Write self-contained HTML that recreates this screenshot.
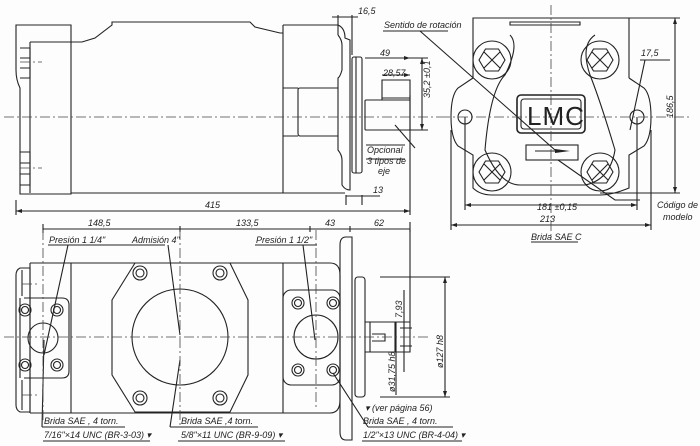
<!DOCTYPE html>
<html><head><meta charset="utf-8"><style>
html,body{margin:0;padding:0;background:#fff;}
svg{display:block;}
text{font-family:"Liberation Sans",sans-serif;font-style:italic;fill:#222;}
text.up{font-style:normal;}
</style></head><body>
<svg width="700" height="446" viewBox="0 0 700 446" xmlns="http://www.w3.org/2000/svg">
<rect width="700" height="446" fill="#fdfdfd"/>
<g fill="none" stroke="#222" stroke-width="1.1">
<path d="M16,25 H71 V194 H20 V88 Q16,80 16,70 Z"/>
<path d="M30,42 H71 M30,42 V193"/>
<path d="M20,48 H30 V78 H20 M20,58 H30 M20,68 H30"/>
<path d="M20,152 H30 V185 H20 M20,163 H30 M20,174 H30"/>
<path d="M71,42 H82 L95,38 L112,25 V22 H250 L255,27 L280,33 H283"/>
<path d="M71,193 H345"/>
<path d="M283,25 H338 Q345,28 345,38 L350,40 V55 M283,25 V193"/>
<path d="M338,35 Q342,40 342,45 V70 Q340,77 338,78 V150 Q342,155 342,160 V185 Q345,190 350,190 V180"/>
<path d="M283,88 H298 M298,90 Q298,88 300,88 H338 M298,90 V133 Q298,136 300,136 H338 M283,136 H298"/>
<path d="M350,55 V180"/>
<rect x="352" y="57" width="10" height="116" rx="2"/>
<path d="M356,57 V173"/>
<rect x="365" y="100" width="45" height="30" rx="1"/>
<path d="M382,100 V80 H410 V100 M382,98 H410"/>
<path d="M16,211 H410 M16,200 V215 M410,95 V215"/>
<path d="M43,229 H410 M43,224 V233 M180,226 V232 M310,226 V232 M350,226 V232 M410,222 V232"/>
<path d="M338,15 V35 M352,15 V55 M332,17 H358"/>
<path d="M365,58 H410 M382,75 H410 M422,58 V130 M410,58 H428 M410,130 H428"/>
<path d="M346,195 V205 M362,195 V205 M346,196 H380"/>
<path d="M395,125 L415,148 M366,145 H405 M366,159 H405"/>
<path d="M473,78 V18 H629 V78"/>
<path d="M510,22 H580 V25 H510 Z"/>
<path d="M473,78 L458,88 Q451,95 451,117 Q451,138 458,146 L473,155 V188 Q480,195 492,195 H600 Q612,195 629,188 V155 L644,146 Q651,138 651,117 Q651,95 644,88 L629,78"/>
<path d="M510,35 Q520,45 505,75 Q490,90 485,150 Q500,185 520,185 H585 Q610,180 615,150 Q600,100 590,75 Q580,45 595,35"/>
<circle cx="465" cy="117" r="7"/><circle cx="637" cy="117" r="7"/>
<g>
<circle cx="492" cy="60" r="19"/><circle cx="600" cy="60" r="19"/>
<circle cx="492" cy="172" r="19"/><circle cx="600" cy="172" r="19"/>
<polygon points="505,60 498.5,71 485.5,71 479,60 485.5,49 498.5,49"/>
<polygon points="613,60 606.5,71 593.5,71 587,60 593.5,49 606.5,49"/>
<polygon points="505,172 498.5,183 485.5,183 479,172 485.5,161 498.5,161"/>
<polygon points="613,172 606.5,183 593.5,183 587,172 593.5,161 606.5,161"/>
<path d="M484,52 L500,68 M500,52 L484,68 M592,52 L608,68 M608,52 L592,68 M484,164 L500,180 M500,164 L484,180 M592,164 L608,180 M608,164 L592,180"/>
</g>
<rect x="517" y="95" width="68" height="38" rx="4" stroke-width="1.6"/>
<rect x="521" y="99" width="60" height="30" rx="3"/>
<rect x="526" y="145" width="52" height="15"/>
<path d="M535,151 H555"/>
<path d="M465,117 V210 M637,117 V210 M465,205 H637 M451,130 V230 M651,130 V230 M451,225 H651"/>
<path d="M629,18 H680 M600,193 H680 M675,18 V193"/>
<path d="M640,60 H670 M645,60 L630,130"/>
<path d="M383,31 H448 M420,31 L555,150 M558,160 L615,200 H640"/>
<path d="M531,242 H578"/>
<path d="M30,263 H71 V413 H30 M71,263 H283 V413 H71 M283,263 H330 Q340,263 340,275 V400 Q340,413 330,413 H283"/>
<path d="M30,263 V413"/>
<path d="M20,268 H30 V412 H20 Q16,410 16,405 V275 Q16,270 20,268 Z M20,298 V378"/>
<path d="M24,298 H62 Q69,298 69,305 V371 Q69,378 62,378 H24"/>
<path d="M22,270 V296 M22,380 V410"/>
<circle cx="43" cy="338" r="15"/>
<circle cx="25" cy="310" r="6"/><circle cx="25" cy="310" r="3.5"/>
<circle cx="57" cy="310" r="6"/><circle cx="57" cy="310" r="3.5"/>
<circle cx="25" cy="365" r="6"/><circle cx="25" cy="365" r="3.5"/>
<circle cx="57" cy="365" r="6"/><circle cx="57" cy="365" r="3.5"/>
<polygon points="135,263 230,263 248,300 248,375 230,412 135,412 112,375 112,300"/>
<circle cx="180" cy="337" r="48"/>
<circle cx="140" cy="273" r="7"/><circle cx="140" cy="273" r="4"/>
<circle cx="220" cy="273" r="7"/><circle cx="220" cy="273" r="4"/>
<circle cx="140" cy="398" r="7"/><circle cx="140" cy="398" r="4"/>
<circle cx="220" cy="398" r="7"/><circle cx="220" cy="398" r="4"/>
<rect x="283" y="290" width="57" height="95" rx="8"/>
<circle cx="316" cy="337" r="22"/>
<circle cx="298" cy="303" r="6"/><circle cx="298" cy="303" r="3.5"/>
<circle cx="333" cy="303" r="6"/><circle cx="333" cy="303" r="3.5"/>
<circle cx="298" cy="370" r="6"/><circle cx="298" cy="370" r="3.5"/>
<circle cx="333" cy="370" r="6"/><circle cx="333" cy="370" r="3.5"/>
<path d="M340,245 Q340,237 346,237 H352 V440 H346 Q340,440 340,432 Z"/>
<rect x="355" y="277" width="10" height="120" rx="3"/>
<path d="M365,322 H410 V352 H365 M370,322 V352 M372,334 H385 V341 H372 M395,322 V352 M400,328 H412 M400,346 H412"/>
<path d="M410,230 V322 M380,277 H450 M380,397 H450 M445,277 V397 M404,290 V372 M396,322 V395"/>
<path d="M48,245 H115 M68,245 L44,355 M93,245 H165 M168,245 L180,335 M255,245 H317 M303,245 L315,340 M42,427 H125 M42,427 L44,340 M170,427 H258 M170,427 L180,360 M368,427 H453 M368,427 L333,373 M43,441 H150 M178,441 H285 M362,441 H462"/>
</g>
<g fill="none" stroke="#444" stroke-width="0.8" stroke-dasharray="10,3,2,3">
<path d="M4,117 H440 M440,117 H690 M551,5 V235 M4,337 H430 M43,230 V420 M180,230 V425 M316,230 V410 M20,62 H42 M20,168 H42 M22,284 H40 M22,395 H40"/>
</g>
<g fill="#222">
<polygon points="555,149 570,151 555,153"/>
<polygon points="410,211 404,209 404,213"/><polygon points="16,211 22,209 22,213"/>
<polygon points="465,205 471,203 471,207"/><polygon points="637,205 631,203 631,207"/>
<polygon points="451,225 457,223 457,227"/><polygon points="651,225 645,223 645,227"/>
<polygon points="675,18 673,24 677,24"/><polygon points="675,193 673,187 677,187"/>
<polygon points="445,277 443,283 447,283"/><polygon points="445,397 443,391 447,391"/>
<polygon points="410,58 404,56 404,60"/><polygon points="410,75 404,73 404,77"/>
<polygon points="422,58 420,64 424,64"/><polygon points="422,130 420,124 424,124"/>
</g>
<g font-size="9">
<text x="358" y="14">16,5</text>
<text x="384" y="28">Sentido de rotación</text>
<text x="380" y="56">49</text>
<text x="383" y="76">28,57</text>
<text transform="translate(430,98) rotate(-90)">35,2 ±0,1</text>
<text x="367" y="153">Opcional</text>
<text x="367" y="164">3 tipos de</text>
<text x="378" y="174">eje</text>
<text x="373" y="193">13</text>
<text x="205" y="208">415</text>
<text x="88" y="226">148,5</text>
<text x="236" y="226">133,5</text>
<text x="325" y="226">43</text>
<text x="374" y="226">62</text>
<text x="641" y="56">17,5</text>
<text transform="translate(673,118) rotate(-90)">186,5</text>
<text x="537" y="210">181 ±0,15</text>
<text x="540" y="222">213</text>
<text x="531" y="240">Brida  SAE  C</text>
<text x="657" y="208">Código de</text>
<text x="663" y="220">modelo</text>
<text x="49" y="243">Presión  1 1/4"</text>
<text x="132" y="243">Admisión    4"</text>
<text x="256" y="243">Presión  1 1/2"</text>
<text transform="translate(402,318) rotate(-90)">7,93</text>
<text transform="translate(395,392) rotate(-90)">ø31,75 h8</text>
<text transform="translate(443,368) rotate(-90)">ø127 h8</text>
<text x="365" y="411">▾ (ver página 56)</text>
<text x="44" y="424">Brida  SAE , 4 torn.</text>
<text x="44" y="438">7/16"×14  UNC (BR-3-03) ▾</text>
<text x="181" y="424">Brida  SAE ,4 torn.</text>
<text x="181" y="438">5/8"×11  UNC (BR-9-09) ▾</text>
<text x="363" y="424">Brida  SAE , 4 torn.</text>
<text x="363" y="438">1/2"×13  UNC (BR-4-04) ▾</text>
</g>
<text class="up" x="527" y="125" font-size="26" letter-spacing="1">LMC</text>
</svg>
</body></html>
